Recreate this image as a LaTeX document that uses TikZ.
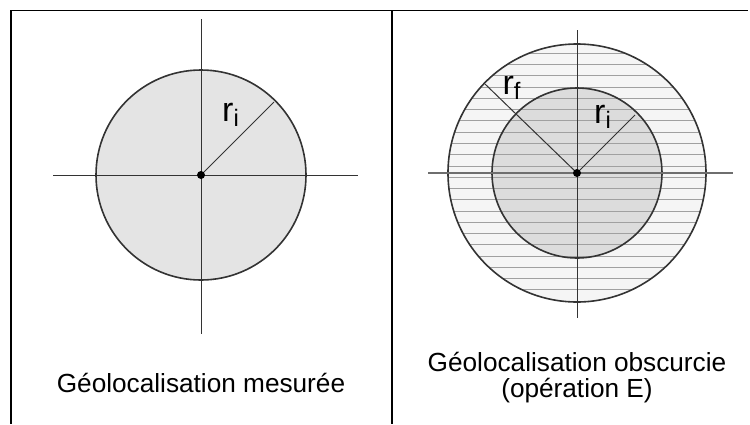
\documentclass[tikz,border=0pt]{standalone}
\usepackage{fontspec}
\setmainfont{Liberation Sans}
\usetikzlibrary{positioning}
\definecolor{LineGrey}{HTML}{333333}
\definecolor{DiskGrey}{HTML}{E4E4E4}
\definecolor{RingGrey}{HTML}{F5F5F5}
\definecolor{CoreGrey}{HTML}{DCDCDC}
\definecolor{StripeGrey}{HTML}{A0A0A0}
\definecolor{AxisGrey}{HTML}{6E6E6E}

\begin{document}
\begin{tikzpicture}[x=0.5pt,y=-0.5pt,font=\fontsize{13.1}{13}\selectfont]
  \useasboundingbox (0,0) rectangle (750,424);
  % table frame
  \draw[line width=0.5pt] (10,10) -- (748,10);
  \draw[line width=1pt] (11,10) -- (11,424);
  \draw[line width=1pt] (392,10) -- (392,424);

  % left cell: measured position
  \coordinate (cL) at (201,175);
  \coordinate (riL) at (274,102);
  \draw[LineGrey,line width=0.8pt,fill=DiskGrey] (cL) circle (105);
  \draw[LineGrey,line width=0.5pt] (53,175) -- (358,175);
  \draw[LineGrey,line width=0.5pt] (201,19) -- (201,334);
  \draw[LineGrey,line width=0.5pt] (cL) -- (riL);
  \fill (cL) circle (4);
  \node[inner sep=0pt,font=\fontsize{17}{17}\selectfont] (riLabL) at (231,115) {r\textsubscript{i}};
  \node (capL) at (201,383) {Géolocalisation mesurée};

  % right cell: obscured position
  \coordinate (cR) at (577,173);
  \coordinate (riR) at (635,115);
  \coordinate (rfR) at (485,84);
  \fill[RingGrey] (cR) circle (129);
  \fill[CoreGrey] (cR) circle (85);
  \begin{scope}
    \clip (cR) circle (129);
    \foreach \k in {0,...,22}
      \draw[StripeGrey,line width=0.5pt] (440,{53.3+11.27*\k}) -- (715,{53.3+11.27*\k});
  \end{scope}
  \draw[LineGrey,line width=0.8pt] (cR) circle (129);
  \draw[LineGrey,line width=0.8pt] (cR) circle (85);
  \draw[AxisGrey,line width=1.2pt] (428,173) -- (733,173);
  \draw[LineGrey,line width=0.5pt] (577,30) -- (577,318);
  \draw[LineGrey,line width=0.5pt] (cR) -- (riR);
  \draw[LineGrey,line width=0.5pt] (cR) -- (rfR);
  \fill (cR) circle (4);
  \node[inner sep=0pt,font=\fontsize{17}{17}\selectfont] (riLabR) at (603,117) {r\textsubscript{i}};
  \node[inner sep=0pt,font=\fontsize{17}{17}\selectfont] (rfLabR) at (512,88) {r\textsubscript{f}};
  \node[align=center] (capR) at (577,378) {Géolocalisation obscurcie\\(opération E)};
\end{tikzpicture}
\end{document}
